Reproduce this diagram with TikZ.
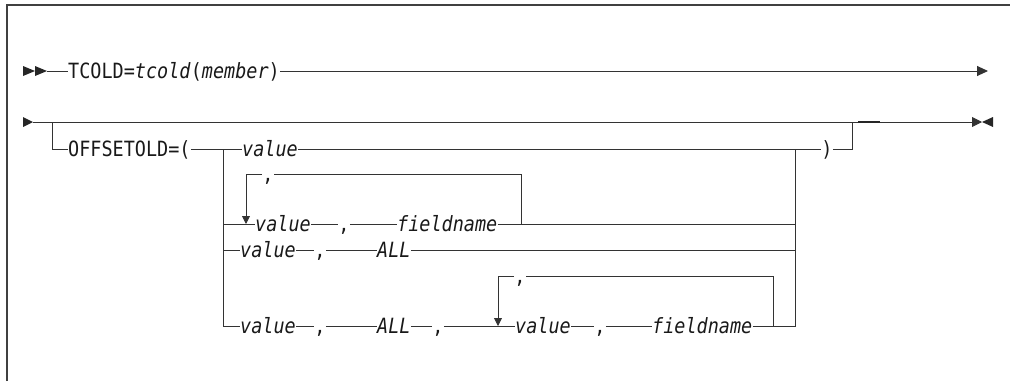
\documentclass[tikz,border=0pt]{standalone}
\usepackage{fontspec}
\setmainfont{DejaVu Sans Mono}[ItalicFont={DejaVu Sans Mono Oblique}, FakeStretch=0.88]
\usetikzlibrary{positioning,arrows.meta}

\begin{document}
\begin{tikzpicture}[
    x=1pt, y=-1pt,
    syn/.style={inner sep=0pt, text height=16pt, text depth=2pt, text=black!90,
                font=\fontsize{21}{23}\selectfont},
    var/.style={syn, font=\fontsize{21}{23}\selectfont\itshape},
    ln/.style={draw=black!80, line width=0.9pt},
    tri/.style={fill=black!85},
    down/.style={ln, -{Triangle[length=8pt,width=8pt]}}
]
\useasboundingbox (0,0) rectangle (1010,381);

% Frame
\draw[black!75, line width=1.6pt] (7,381) -- (7,5) -- (1010,5);

% Junction points
\coordinate (s1) at (47,71);
\coordinate (e1) at (988,71);
\coordinate (s2) at (33,122);
\coordinate (e2) at (982,122);
\coordinate (gL) at (52,122);
\coordinate (gR) at (852,122);
\coordinate (jL) at (223,149);
\coordinate (jR) at (795,149);
\coordinate (l1t) at (246,224);
\coordinate (l1r) at (521,224);
\coordinate (l2t) at (498,326);
\coordinate (l2r) at (773,326);

% Define tokens
\node[syn, anchor=west] (tcold) at (68,71) {TCOLD=\textit{tcold}(\textit{member})};
\node[syn, anchor=west] (opt) at (68,149) {OFFSETOLD=(};
\node[var, anchor=west] (valA) at (242,149) {value};
\node[syn] (close) at (827,149) {)};

\node[syn] (lc1) at (268,174) {,};
\node[var, anchor=west] (valB) at (255,224) {value};
\node[syn] (cB) at (344,224) {,};
\node[var, anchor=west] (fieldB) at (397,224) {fieldname};

\node[var, anchor=west] (valC) at (240,250) {value};
\node[syn] (cC) at (320,250) {,};
\node[var, anchor=west] (allC) at (377,250) {ALL};

\node[syn] (lc2) at (520,276) {,};
\node[var, anchor=west] (valD) at (240,326) {value};
\node[syn] (cD1) at (320,326) {,};
\node[var, anchor=west] (allD) at (377,326) {ALL};
\node[syn] (cD2) at (438,326) {,};
\node[var, anchor=west] (valD2) at (515,326) {value};
\node[syn] (cD3) at (600,326) {,};
\node[var, anchor=west] (fieldD) at (652,326) {fieldname};

% Start and end marks
\fill[tri] (23,66) -- (35,71) -- (23,76) -- cycle;
\fill[tri] (35,66) -- (47,71) -- (35,76) -- cycle;
\fill[tri] (23,117) -- (33,122) -- (23,127) -- cycle;
\fill[tri] (993,117) -- (982,122) -- (993,127) -- cycle;

% First line
\draw[ln] (s1) -- (tcold.west);
\draw[ln, -{Triangle[length=11pt,width=10pt]}] (tcold.east) -- (e1);

% Second line with the optional group
\draw[ln, -{Triangle[length=10pt,width=10pt]}] (s2) -- (e2);
\draw[black!85, line width=2pt] (858,122) -- (880,122);
\draw[ln] (gL) |- (opt.west);
\draw[ln] (opt.east) -- (valA.west);
\draw[ln] (valA.east) -- (close.west);
\draw[ln] (close.east) -| (gR);

% Choice stack
\draw[ln] (jL) |- (valD.west);
\draw[ln] (fieldD.east) -| (jR);
\draw[ln] (jL |- valB.west) -- (valB.west);
\draw[ln] (valB.east) -- (cB.west);
\draw[ln] (cB.east) -- (fieldB.west);
\draw[ln] (fieldB.east) -- (jR |- fieldB.east);
\draw[ln] (jL |- valC.west) -- (valC.west);
\draw[ln] (valC.east) -- (cC.west);
\draw[ln] (cC.east) -- (allC.west);
\draw[ln] (allC.east) -- (jR |- allC.east);
\foreach \a/\b in {valD/cD1, cD1/allD, allD/cD2, cD2/valD2, valD2/cD3, cD3/fieldD} {
    \draw[ln] (\a.east) -- (\b.west);
}

% Repeat loops
\draw[ln] (l1r) |- (lc1.east);
\draw[down] (lc1.west) -| (l1t);
\draw[ln] (l2r) |- (lc2.east);
\draw[down] (lc2.west) -| (l2t);

\end{tikzpicture}
\end{document}
